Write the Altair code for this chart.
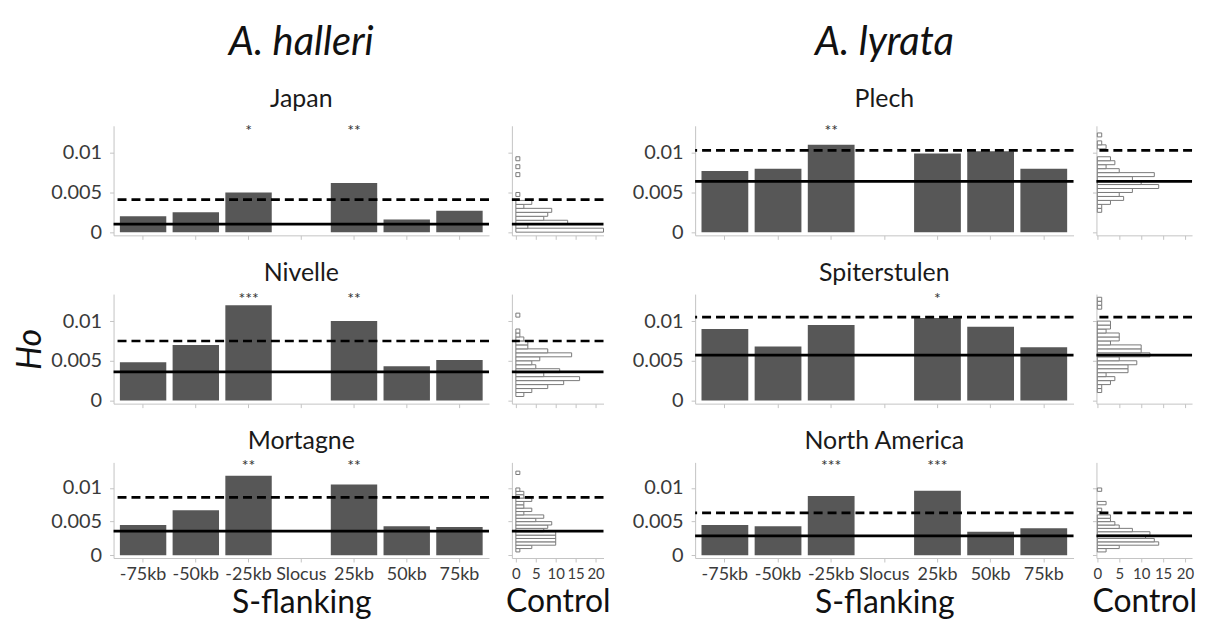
import altair as alt
import pandas as pd

FONT = "Lato"
BAR = "#575757"
AXC = "#c4c4c4"
LAB = "#3a3a3a"

positions = ["-75kb", "-50kb", "-25kb", "Slocus", "25kb", "50kb", "75kb"]
species = ["A. halleri", "A. lyrata"]
populations = ["Japan", "Nivelle", "Mortagne", "Plech", "Spiterstulen", "North America"]

# S-flanking Ho per position (None = S-locus itself, no bar)
japan_ho = [0.0020, 0.0025, 0.0050, None, 0.0062, 0.0016, 0.0027]
nivelle_ho = [0.0048, 0.0070, 0.0120, None, 0.0100, 0.0043, 0.0051]
mortagne_ho = [0.0045, 0.0067, 0.0118, None, 0.0105, 0.0043, 0.0042]
plech_ho = [0.0077, 0.0080, 0.0110, None, 0.0099, 0.0102, 0.0080]
spiter_ho = [0.0090, 0.0068, 0.0095, None, 0.0104, 0.0093, 0.0067]
namerica_ho = [0.0045, 0.0043, 0.0088, None, 0.0096, 0.0035, 0.0040]

japan_stars = ["", "", "*", "", "**", "", ""]
nivelle_stars = ["", "", "***", "", "**", "", ""]
mortagne_stars = ["", "", "**", "", "**", "", ""]
plech_stars = ["", "", "**", "", "", "", ""]
spiter_stars = ["", "", "", "", "*", "", ""]
namerica_stars = ["", "", "***", "", "***", "", ""]

# control mean (solid) and threshold (dashed)
japan_mean, japan_thr = 0.0010, 0.0041
nivelle_mean, nivelle_thr = 0.0036, 0.0075
mortagne_mean, mortagne_thr = 0.0036, 0.0086
plech_mean, plech_thr = 0.0064, 0.0103
spiter_mean, spiter_thr = 0.0057, 0.0105
namerica_mean, namerica_thr = 0.0029, 0.0063

# control histograms: bin lower edge (bin width 0.0005) and counts
japan_bins = [0.0000, 0.0005, 0.0010, 0.0015, 0.0020, 0.0025, 0.0030, 0.0035, 0.0045, 0.0070, 0.0080, 0.0090]
japan_counts = [22, 3, 13, 7, 8, 9, 2, 4, 1, 1, 1, 1]
nivelle_bins = [0.0005, 0.0010, 0.0015, 0.0020, 0.0025, 0.0030, 0.0035, 0.0040, 0.0045, 0.0050,
                0.0055, 0.0060, 0.0065, 0.0070, 0.0075, 0.0080, 0.0085, 0.0105]
nivelle_counts = [2, 4, 8, 12, 16, 7, 11, 5, 4, 6, 14, 8, 3, 3, 2, 1, 1, 1]
mortagne_bins = [0.0005, 0.0010, 0.0015, 0.0020, 0.0025, 0.0030, 0.0035, 0.0040, 0.0045, 0.0050,
                 0.0055, 0.0060, 0.0065, 0.0070, 0.0075, 0.0080, 0.0085, 0.0090, 0.0095, 0.0120]
mortagne_counts = [1, 4, 10, 10, 10, 10, 7, 8, 9, 5, 7, 2, 4, 2, 2, 4, 2, 2, 1, 1]
plech_bins = [0.0025, 0.0030, 0.0035, 0.0040, 0.0045, 0.0050, 0.0055, 0.0060, 0.0065, 0.0070,
              0.0075, 0.0080, 0.0085, 0.0090, 0.0105, 0.0110, 0.0120]
plech_counts = [1, 1, 3, 6, 5, 8, 14, 10, 8, 13, 5, 2, 4, 3, 2, 1, 1]
spiter_bins = [0.0010, 0.0015, 0.0020, 0.0025, 0.0030, 0.0035, 0.0040, 0.0045, 0.0050, 0.0055,
               0.0060, 0.0065, 0.0070, 0.0075, 0.0080, 0.0085, 0.0090, 0.0095, 0.0115, 0.0120, 0.0125]
spiter_counts = [1, 1, 3, 4, 2, 7, 7, 9, 5, 12, 10, 10, 3, 5, 5, 2, 3, 3, 1, 1, 1]
namerica_bins = [0.0005, 0.0010, 0.0015, 0.0020, 0.0025, 0.0030, 0.0035, 0.0040, 0.0045, 0.0050,
                 0.0055, 0.0065, 0.0075, 0.0095]
namerica_counts = [2, 5, 14, 13, 11, 12, 8, 5, 4, 3, 3, 1, 2, 1]

hist_ticks = [0, 5, 10, 15, 20]
ho_ticks = [0, 0.005, 0.01]

ROW_H = [110, 110, 96]
ROW_YDOM = [[-0.0004, 0.0134], [-0.0004, 0.0134], [-0.0004, 0.0138]]
ROW_STAR_Y = [0.0128, 0.0128, 0.0132]


def axis_style(**kw):
    base = dict(domainColor=AXC, tickColor=AXC, tickSize=4, grid=False,
                labelColor=LAB, labelFont=FONT, labelFontSize=18, labelPadding=6,
                titleFont=FONT, titleFontWeight="normal", titleColor="#111")
    base.update(kw)
    return alt.Axis(**base)


def yenc(field, ydom, labels, title=None):
    return alt.Y(field, type="quantitative", scale=alt.Scale(domain=ydom, nice=False, zero=False),
                 axis=axis_style(values=ho_ticks, format="~g", labels=labels, labelPadding=8,
                                 labelFontSize=20, title=title, titleFontSize=34,
                                 titleFontStyle="italic", titlePadding=3))


def line_layers(chart_data, ydom, ylabels, ytitle=None):
    solid = alt.Chart(chart_data).transform_filter("datum.kind == 'mean'").mark_rule(
        color="black", strokeWidth=2.8).encode(y=yenc("v", ydom, ylabels, ytitle))
    dashed = alt.Chart(chart_data).transform_filter("datum.kind == 'thr'").mark_rule(
        color="black", strokeWidth=2.6, strokeDash=[9, 5]).encode(y=yenc("v", ydom, ylabels, ytitle))
    return solid, dashed


def bar_panel(ho, stars, mean, thr, width, height, ydom, star_y, title, bottom, ytitle=None):
    df = pd.DataFrame({"pos": positions, "ho": ho, "star": stars, "base": [0.0] * len(positions)})
    xenc = alt.X("pos", type="nominal", sort=positions,
                 scale=alt.Scale(domain=positions, paddingInner=0.12, paddingOuter=0.12),
                 axis=axis_style(labels=bottom, labelAngle=0, labelOverlap=False, labelPadding=4,
                                 title="S-flanking" if bottom else None, titleFontSize=32,
                                 titlePadding=4))
    base = alt.Chart(df)
    bars = base.transform_filter("isValid(datum.ho)").mark_bar(color=BAR).encode(
        x=xenc, y=yenc("ho", ydom, True, ytitle), y2="base")
    txt = base.mark_text(font=FONT, fontSize=16, color="#333", fill="#333", baseline="middle").encode(
        x=xenc, y=alt.datum(star_y), text="star")
    ldf = pd.DataFrame({"v": [mean, thr], "kind": ["mean", "thr"]})
    solid, dashed = line_layers(ldf, ydom, True, ytitle)
    return alt.layer(bars, txt, solid, dashed).properties(width=width, height=height, title=title)


def hist_panel(bins, counts, mean, thr, width, height, ydom, xdom, bottom):
    df = pd.DataFrame({"lo": bins, "count": counts})
    xs = alt.Scale(domain=xdom, nice=False, zero=False)
    xaxis = axis_style(values=hist_ticks, labels=bottom, labelOverlap=False, labelFlush=False,
                       labelFontSize=15, labelPadding=5, title="Control" if bottom else None,
                       titleFontSize=32, titlePadding=5)
    rect = alt.Chart(df).transform_calculate(hi="datum.lo + 0.0005", zero="0").mark_rect(
        fill="white", stroke="#7a7a7a", strokeWidth=1).encode(
        x=alt.X("zero", type="quantitative", scale=xs, axis=xaxis),
        x2="count", y=yenc("lo", ydom, False), y2="hi:Q")
    ldf = pd.DataFrame({"v": [mean, thr], "kind": ["mean", "thr"]})
    solid, dashed = line_layers(ldf, ydom, False)
    return alt.layer(rect, solid, dashed).properties(width=width, height=height)


def spacer(height):
    return alt.Chart(pd.DataFrame({"a": [0]})).mark_point(opacity=0).encode(
        x=alt.value(0), y=alt.value(0)).properties(width=46, height=height)


def title_for(row, col, pop):
    if row == 0:
        return alt.TitleParams(text=species[col], subtitle=pop, fontSize=40, fontStyle="italic",
                               fontWeight="normal", font=FONT, color="#111",
                               subtitleFont=FONT, subtitleFontSize=25, subtitleColor="#1a1a1a",
                               subtitlePadding=24, anchor="middle", frame="group", offset=11)
    return alt.TitleParams(text=pop, fontSize=25, fontWeight="normal", font=FONT, color="#1a1a1a",
                           anchor="middle", frame="group", offset=5)


left = [
    (japan_ho, japan_stars, japan_mean, japan_thr, japan_bins, japan_counts),
    (nivelle_ho, nivelle_stars, nivelle_mean, nivelle_thr, nivelle_bins, nivelle_counts),
    (mortagne_ho, mortagne_stars, mortagne_mean, mortagne_thr, mortagne_bins, mortagne_counts),
]
right = [
    (plech_ho, plech_stars, plech_mean, plech_thr, plech_bins, plech_counts),
    (spiter_ho, spiter_stars, spiter_mean, spiter_thr, spiter_bins, spiter_counts),
    (namerica_ho, namerica_stars, namerica_mean, namerica_thr, namerica_bins, namerica_counts),
]

cells = []
for r in range(3):
    h = ROW_H[r]
    yd = ROW_YDOM[r]
    sy = ROW_STAR_Y[r]
    bottom = r == 2
    ho, st, mn, th, bi, co = left[r]
    cells.append(bar_panel(ho, st, mn, th, 377, h, yd, sy, title_for(r, 0, populations[r]), bottom,
                           ytitle="Ho" if r == 1 else None))
    cells.append(hist_panel(bi, co, mn, th, 92, h, yd, [-1, 22], bottom))
    cells.append(spacer(h))
    ho, st, mn, th, bi, co = right[r]
    cells.append(bar_panel(ho, st, mn, th, 380, h, yd, sy, title_for(r, 1, populations[3 + r]), bottom))
    cells.append(hist_panel(bi, co, mn, th, 96, h, yd, [-0.2, 21.6], bottom))

chart = alt.concat(*cells, columns=5, spacing={"row": 59, "column": 23}, bounds="flush").properties(
    padding={"top": 13, "left": 5, "right": 5, "bottom": 5}
).configure(font=FONT, background="white").configure_view(stroke=None)

chart.save("out.html", embed_options={"renderer": "svg", "actions": False})
